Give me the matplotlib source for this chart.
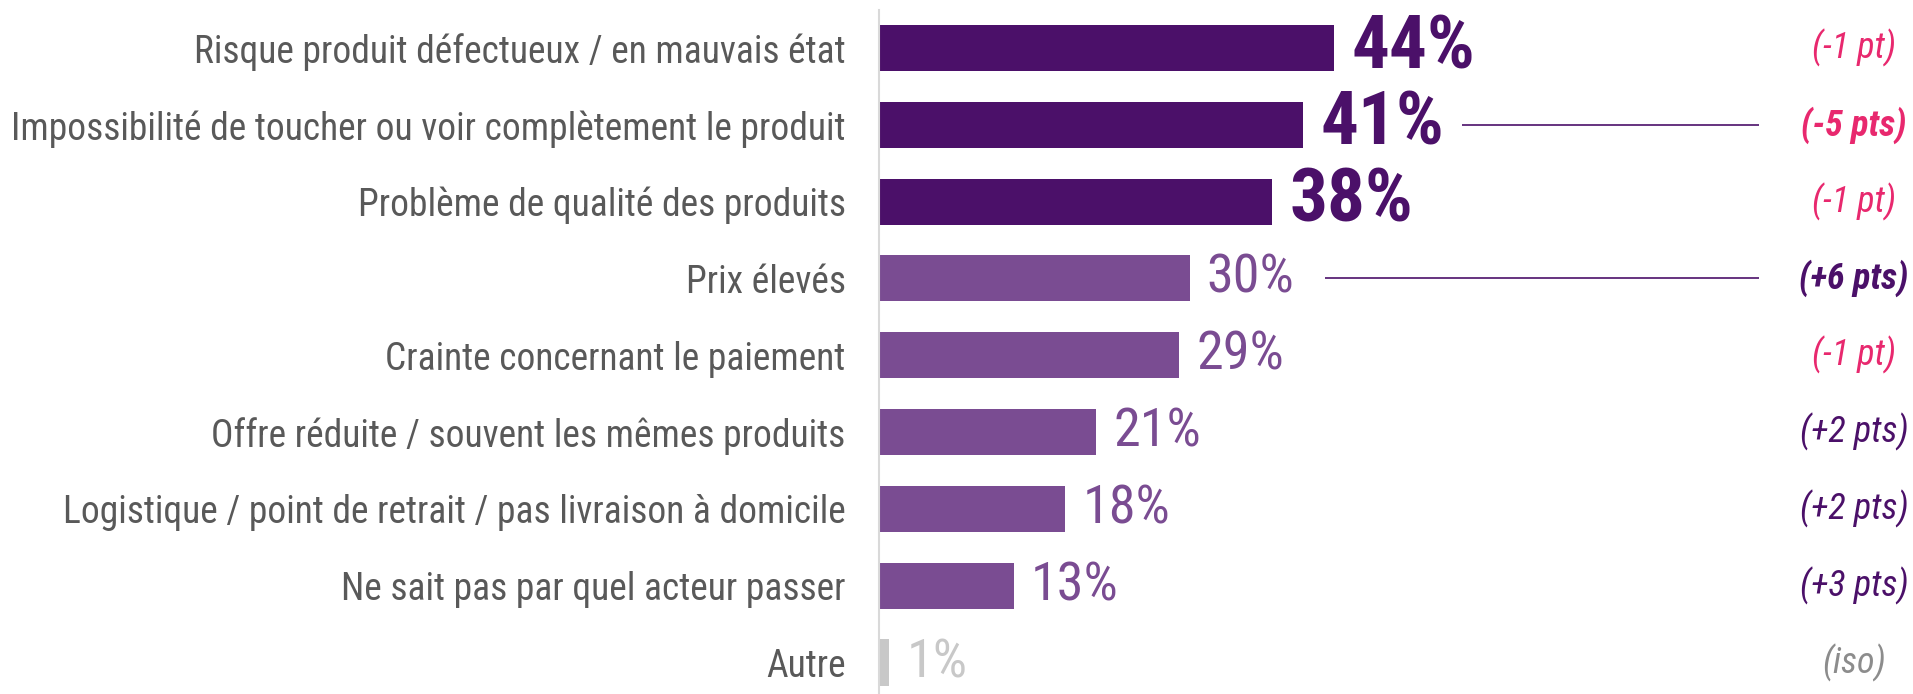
import matplotlib
matplotlib.use("Agg")
import matplotlib.pyplot as plt
import matplotlib.transforms as mtransforms

# ---------------------------------------
# Data
# ---------------------------------------
categories = [
    "Risque produit défectueux / en mauvais état",
    "Impossibilité de toucher ou voir complètement le produit",
    "Problème de qualité des produits",
    "Prix élevés",
    "Crainte concernant le paiement",
    "Offre réduite / souvent les mêmes produits",
    "Logistique / point de retrait / pas livraison à domicile",
    "Ne sait pas par quel acteur passer",
    "Autre",
]
values = [44, 41, 38, 30, 29, 21, 18, 13, 1]
changes = ["(-1 pt)", "(-5 pts)", "(-1 pt)", "(+6 pts)", "(-1 pt)",
           "(+2 pts)", "(+2 pts)", "(+3 pts)", "(iso)"]
highlight = [True, True, True, False, False, False, False, False, False]
emphasis = [False, True, False, True, False, False, False, False, False]

# ---------------------------------------
# Style
# ---------------------------------------
FONTS = ["Roboto Condensed", "Liberation Sans Narrow", "Roboto", "DejaVu Sans"]
plt.rcParams["font.family"] = FONTS

DARK = "#4b1069"
LIGHT = "#7a4c92"
GREY_BAR = "#c8c8c8"
PINK = "#e8286e"
TEXT = "#595959"
ISO = "#8c8c8c"

fig = plt.figure(figsize=(19.13, 6.94), dpi=100)
W, H = 1913, 694
x0_px = 879
ax = fig.add_axes([x0_px / W, 0, (W - x0_px) / W, 684 / H])

px_per_pct = 10.35
ax.set_xlim(0, (W - x0_px) / px_per_pct)
ax.set_ylim(8.41, -0.495)

bar_colors = []
for i, v in enumerate(values):
    if categories[i] == "Autre":
        bar_colors.append(GREY_BAR)
    elif highlight[i]:
        bar_colors.append(DARK)
    else:
        bar_colors.append(LIGHT)

y = list(range(len(categories)))
ax.barh(y, values, height=0.6, color=bar_colors, left=0)

for s in ["top", "right", "bottom"]:
    ax.spines[s].set_visible(False)
ax.spines["left"].set_color("#d9d9d9")
ax.spines["left"].set_linewidth(1.5)
ax.set_xticks([])
ax.set_yticks(y)
ax.set_yticklabels(categories, fontsize=27, color=TEXT)
ax.tick_params(axis="y", length=0, pad=24)

# value labels
offset = mtransforms.ScaledTranslation(17 / 100, 0, fig.dpi_scale_trans)
for i, v in enumerate(values):
    col = bar_colors[i]
    if highlight[i]:
        ax.text(v, i, f"{v}%", transform=ax.transData + offset,
                fontsize=54, fontweight="bold", color=DARK,
                va="center", ha="left")
    else:
        ax.text(v, i, f"{v}%", transform=ax.transData + offset,
                fontsize=39, color=col, va="center", ha="left")

# evolution labels
blend = mtransforms.blended_transform_factory(ax.transAxes, ax.transData)
ax_w = W - x0_px
for i, c in enumerate(changes):
    if c.startswith("(-"):
        col = PINK
    elif c.startswith("(+"):
        col = DARK
    else:
        col = ISO
    ax.text((1854 - x0_px) / ax_w, i, c, transform=blend, fontsize=26,
            style="italic", fontweight="bold" if emphasis[i] else "normal",
            color=col, ha="center", va="center")

# connector lines for the notable changes
line_start = {1: 1462, 3: 1325}
for i, xs in line_start.items():
    ax.plot([(xs - x0_px) / ax_w, (1759 - x0_px) / ax_w], [i, i],
            transform=blend, color=DARK, lw=1.2, solid_capstyle="butt")

fig.savefig("out.png", dpi=100)
